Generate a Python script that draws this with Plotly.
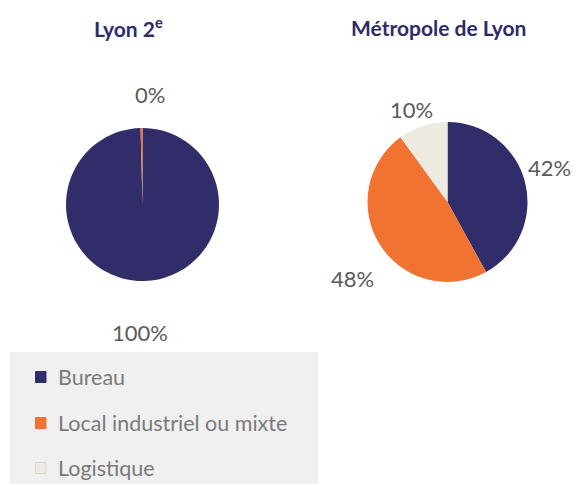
import math
import plotly.graph_objects as go

# Data
categories = ["Bureau", "Local industriel ou mixte", "Logistique"]
lyon2_values = [99.6, 0.4, 0.0]
metropole_values = [42, 48, 10]
titles = ["Lyon 2<sup>e</sup>", "Métropole de Lyon"]

colors = ["#312D6B", "#F07331", "#EDEAE1"]

W, H = 576, 486
NAVY = "#2E2B6B"
LABEL_GREY = "#5A5A5A"
FONT = "Lato, 'Open Sans', sans-serif"

# Pie geometry in pixels: (centre x, centre y, radius)
pies = [
    dict(cx=142.5, cy=204.5, r=76.5, title_x=128),
    dict(cx=447.5, cy=202.0, r=80.0, title_x=438),
]
# Outside label placement per slice: (radius factor, angular nudge in degrees)
label_place = [
    [(1.68, 1.8), (1.435, 4.6), (1.3, 0)],
    [(1.35, -4.0), (1.53, -6.5), (1.244, -3.0)],
]


def px(x):
    return x / W


def py(y):
    return 1 - y / H


fig = go.Figure()
annotations = []
for i, (vals, geo) in enumerate(zip([lyon2_values, metropole_values], pies)):
    cx, cy, r = geo["cx"], geo["cy"], geo["r"]
    fig.add_trace(go.Pie(
        labels=categories,
        values=vals,
        sort=False,
        direction="clockwise",
        rotation=0,
        marker=dict(colors=colors, line=dict(width=0)),
        textinfo="none",
        hoverinfo="label+percent",
        showlegend=False,
        domain=dict(x=[px(cx - r), px(cx + r)], y=[py(cy + r), py(cy - r)]),
    ))
    total = sum(vals)
    cum = 0.0
    for j, v in enumerate(vals):
        if v <= 0:
            continue
        factor, nudge = label_place[i][j]
        theta = math.radians((cum + v / 2) / total * 360 + nudge)
        cum += v
        lx = cx + factor * r * math.sin(theta)
        ly = cy - factor * r * math.cos(theta)
        annotations.append(dict(
            x=px(lx), y=py(ly), xref="paper", yref="paper",
            text=f"{round(v / total * 100)}%", showarrow=False,
            xanchor="center", yanchor="middle",
            font=dict(family=FONT, size=22, color=LABEL_GREY),
        ))
    annotations.append(dict(
        x=px(geo["title_x"]), y=py(27), xref="paper", yref="paper",
        text=f"<b>{titles[i]}</b>", showarrow=False,
        xanchor="center", yanchor="middle",
        font=dict(family=FONT, size=21, color=NAVY),
    ))

# Legend panel
shapes = [dict(
    type="rect", xref="paper", yref="paper",
    x0=px(10), x1=px(318), y0=py(484), y1=py(352),
    fillcolor="#F0F0F0", line=dict(width=0), layer="below",
)]
legend_rows = [377, 423, 468]
for cat, col, yrow in zip(categories, colors, legend_rows):
    shapes.append(dict(
        type="rect", xref="paper", yref="paper",
        x0=px(35.5), x1=px(46), y0=py(yrow + 5.5), y1=py(yrow - 5.5),
        fillcolor=col,
        line=dict(width=1, color="#DCD9CF" if col == colors[2] else col),
    ))
    annotations.append(dict(
        x=px(56), y=py(yrow), xref="paper", yref="paper",
        text=cat, showarrow=False, xanchor="left", yanchor="middle",
        font=dict(family=FONT, size=21.5, color="#7A7A7A"),
    ))

fig.update_layout(
    width=W, height=H,
    margin=dict(l=0, r=0, t=0, b=0),
    paper_bgcolor="white",
    plot_bgcolor="white",
    annotations=annotations,
    shapes=shapes,
)

fig.write_html("out.html")
